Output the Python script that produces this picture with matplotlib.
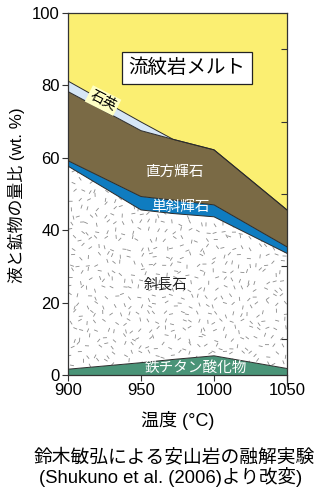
import numpy as np
import matplotlib
matplotlib.use("Agg")
import matplotlib.pyplot as plt
from matplotlib.collections import LineCollection

plt.rcParams['font.family'] = ['Liberation Sans', 'Noto Sans CJK JP', 'DejaVu Sans']

# Data (wt. %)
temps = [900, 950, 972, 1000, 1050]
feti = [1.6, 3.4, 4.3, 5.3, 1.8]        # 鉄チタン酸化物
plag = [56.1, 42.2, 40.3, 38.4, 31.8]   # 斜長石
cpx = [1.5, 3.7, 3.7, 3.3, 1.8]         # 単斜輝石
opx = [19.1, 18.2, 16.8, 15.2, 10.2]    # 直方輝石
qz = [2.9, 2.4, 0.0, 0.0, 0.0]          # 石英
melt = [18.8, 30.1, 34.9, 37.8, 54.4]   # 流紋岩メルト

xticks = [900, 950, 1000, 1050]
yticks = [0, 20, 40, 60, 80, 100]
yminor = [10, 30, 50, 70, 90]

colors = ['#4a9478', '#ffffff', '#0f7cc0', '#7a6a45', '#d6e6f6', '#fbef72']

fig = plt.figure(figsize=(3.26, 4.92), dpi=100)
ax = fig.add_axes([68/326, 1-375/492, 219/326, 362/492])

t = np.array(temps, dtype=float)
layers = np.array([feti, plag, cpx, opx, qz, melt], dtype=float)
cum = np.vstack([np.zeros(len(t)), np.cumsum(layers, axis=0)])
polys = []
for i in range(layers.shape[0]):
    p = ax.fill_between(t, cum[i], cum[i+1], facecolor=colors[i],
                        edgecolor='none', zorder=1)
    polys.append(p)
for i in range(1, layers.shape[0]):
    ax.plot(t, cum[i], color='#2a2a2a', lw=0.7, zorder=3)

# plagioclase texture (decorative dashes)
rng = np.random.default_rng(7)
nx, ny = 26, 44
gx, gy = np.meshgrid((np.arange(nx) + 0.5) / nx, (np.arange(ny) + 0.5) / ny)
cx = gx.ravel() + rng.uniform(-0.4, 0.4, gx.size) / nx
cy = gy.ravel() + rng.uniform(-0.4, 0.4, gy.size) / ny
ang = rng.uniform(0, np.pi, cx.size)
hx = 2.0 / 219 * np.cos(ang)
hy = 2.0 / 362 * np.sin(ang)
segs = np.stack([np.stack([cx - hx, cy - hy], 1), np.stack([cx + hx, cy + hy], 1)], 1)
lc = LineCollection(segs, colors='#8a8a8a', linewidths=0.6, transform=ax.transAxes, zorder=2)
ax.add_collection(lc)
path = polys[1].get_paths()[0]
lc.set_clip_path(path, ax.transData)

ax.set_xlim(900, 1050)
ax.set_ylim(0, 100)
ax.set_xticks(xticks)
ax.set_yticks(yticks)
ax.tick_params(axis='both', direction='out', length=4, width=0.8, labelsize=12, pad=2,
               color='#333333')
for s in ax.spines.values():
    s.set_color('#333333')
    s.set_linewidth(0.9)
ax.spines['right'].set_bounds(-3, 100)

# right inner ticks
ax2 = ax.twinx()
ax2.set_ylim(0, 100)
ax2.set_yticks(yminor)
ax2.tick_params(axis='y', direction='in', length=4, width=0.8, labelright=False, color='#333333')
for s in ax2.spines.values():
    s.set_visible(False)

fig.text(178/326, 1-420/492, '温度 (°C)', fontsize=13, ha='center', va='center')
fig.text(16/326, 1-195/492, '液と鉱物の量比 (wt. %)', fontsize=12.2, ha='center', va='center',
         rotation=90)

ax.text(981.5, 84.9, '流紋岩メルト', fontsize=14, ha='center', va='center', zorder=5,
        bbox=dict(boxstyle='square,pad=0.35', facecolor='white', edgecolor='#222222', lw=0.9))
ax.text(924, 75.8, '石英', fontsize=10, ha='center', va='center', rotation=-27, zorder=5,
        bbox=dict(boxstyle='square,pad=0.15', facecolor='#ffffc4', edgecolor='none'))
ax.text(973, 56.1, '直方輝石', fontsize=10.5, ha='center', va='center', color='white', zorder=5)
ax.text(977, 46.4, '単斜輝石', fontsize=10.5, ha='center', va='center', color='white', zorder=5)
ax.text(967, 25.1, '斜長石', fontsize=10.5, ha='center', va='center', color='#222222', zorder=5)
ax.text(987.7, 1.9, '鉄チタン酸化物', fontsize=10.5, ha='center', va='center', color='white', zorder=5)

fig.text(174/326, 1-458/492, '鈴木敏弘による安山岩の融解実験', fontsize=13.5, ha='center', va='center')
fig.text(171/326, 1-477/492, '(Shukuno et al. (2006)より改変)', fontsize=13.3, ha='center', va='center')

fig.savefig('out.png', dpi=100)
